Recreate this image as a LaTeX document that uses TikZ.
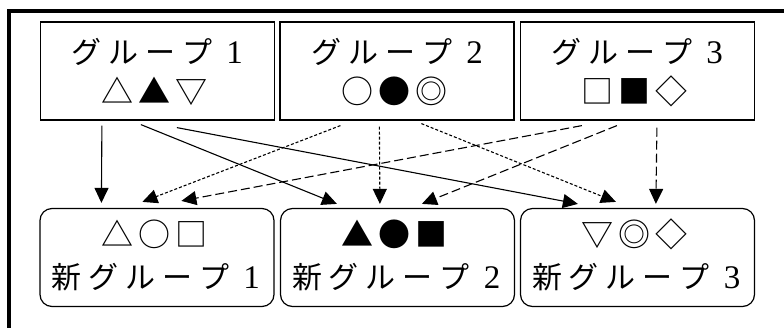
\documentclass[tikz,border=0pt]{standalone}
\usepackage{fontspec}
\setmainfont{Liberation Serif}
\newfontfamily\jp{Noto Sans CJK JP}
\usetikzlibrary{arrows.meta,calc}
\newcommand\chbox[1]{\makebox[37pt]{#1}}
\newcommand\kj[1]{\chbox{\jp #1}}
\newcommand\sy[1]{\chbox{\jp\fontsize{32}{32}\selectfont #1}}
\newcommand\dg[1]{\chbox{\fontsize{33}{33}\selectfont #1}}
\begin{document}
\begin{tikzpicture}[x=1pt,y=-1pt,
  box/.style={draw,line width=1.2pt,minimum width=234pt,minimum height=98pt,inner sep=0pt},
  rbox/.style={box,rounded corners=12pt},
  lbl/.style={anchor=base,inner sep=0pt,font=\fontsize{30}{30}\selectfont},
  conn/.style={line width=1.1pt,-{Triangle[length=15pt,width=14pt]}},
  fine/.style={conn,dash pattern=on 3pt off 2pt},
  coarse/.style={conn,dash pattern=on 9pt off 4pt}]
\useasboundingbox (0,0) rectangle (784,327);
\draw[line width=4pt] (8.7,340) -- (8.7,11.3) -- (800,11.3);

\node[box] (g1) at (157.5,71) {};
\node[box] (g2) at (397,71) {};
\node[box] (g3) at (637.5,71) {};
\node[rbox] (n1) at (157,257.5) {};
\node[rbox] (n2) at (397.5,257.5) {};
\node[rbox] (n3) at (637.5,257.5) {};

\node[lbl] (g1a) at (160.5,63) {\kj{グ}\kj{ル}\kj{ー}\kj{プ}\dg{1}};
\node[lbl] (g2a) at (400.5,63) {\kj{グ}\kj{ル}\kj{ー}\kj{プ}\dg{2}};
\node[lbl] (g3a) at (640.5,63) {\kj{グ}\kj{ル}\kj{ー}\kj{プ}\dg{3}};
\node[lbl] (g1b) at (154.5,103) {\sy{△}\sy{▲}\sy{▽}};
\node[lbl] (g2b) at (394.5,103) {\sy{○}\sy{●}\sy{◎}};
\node[lbl] (g3b) at (634.5,103) {\sy{□}\sy{■}\sy{◇}};
\node[lbl] (n1a) at (154.5,246) {\sy{△}\sy{○}\sy{□}};
\node[lbl] (n2a) at (394.5,246) {\sy{▲}\sy{●}\sy{■}};
\node[lbl] (n3a) at (634.5,246) {\sy{▽}\sy{◎}\sy{◇}};
\node[lbl] (n1b) at (159,288) {\kj{新}\kj{グ}\kj{ル}\kj{ー}\kj{プ}\dg{1}};
\node[lbl] (n2b) at (399.5,288) {\kj{新}\kj{グ}\kj{ル}\kj{ー}\kj{プ}\dg{2}};
\node[lbl] (n3b) at (639.5,288) {\kj{新}\kj{グ}\kj{ル}\kj{ー}\kj{プ}\dg{3}};

% solid: from group 1
\draw[conn] ([xshift=62pt,yshift=-5pt]g1.south west) -- ([xshift=62pt,yshift=5pt]n1.north west);
\draw[conn] ([xshift=101pt,yshift=-4pt]g1.south west) -- ([xshift=57pt,yshift=4pt]n2.north west);
\draw[conn] ([xshift=137pt,yshift=-7pt]g1.south west) -- ([xshift=58pt,yshift=4pt]n3.north west);
% fine dashed: from group 2
\draw[fine] ([xshift=61pt,yshift=-5pt]g2.south west) -- ([xshift=103pt,yshift=6pt]n1.north west);
\draw[fine] ([xshift=100pt,yshift=-6pt]g2.south west) -- ([xshift=100pt,yshift=4pt]n2.north west);
\draw[fine] ([xshift=142pt,yshift=-3pt]g2.south west) -- ([xshift=96pt,yshift=6pt]n3.north west);
% coarse dashed: from group 3
\draw[coarse] ([xshift=62pt,yshift=-5pt]g3.south west) -- ([xshift=142pt,yshift=7pt]n1.north west);
\draw[coarse] ([xshift=97pt,yshift=-5pt]g3.south west) -- ([xshift=142pt,yshift=4pt]n2.north west);
\draw[coarse] ([xshift=137pt,yshift=-7pt]g3.south west) -- ([xshift=136pt,yshift=4pt]n3.north west);
\end{tikzpicture}
\end{document}
